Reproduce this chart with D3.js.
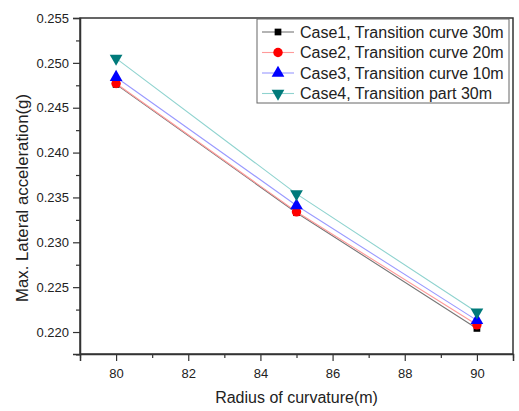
<!DOCTYPE html>
<html>
<head>
<meta charset="utf-8">
<script src="https://cdn.jsdelivr.net/npm/d3@7"></script>
<style>
  body { margin: 0; background: #fff; }
  text { font-family: "Liberation Sans", Arial, sans-serif; fill: #222; }
</style>
</head>
<body>
<div id="chart"></div>
<script>
const radius = [80, 85, 90];
const seriesNames = [
  "Case1, Transition curve 30m",
  "Case2, Transition curve 20m",
  "Case3, Transition curve 10m",
  "Case4, Transition part 30m"
];
const case1 = [0.2476, 0.2333, 0.2204];
const case2 = [0.2477, 0.2334, 0.2208];
const case3 = [0.2484, 0.2341, 0.2213];
const case4 = [0.2505, 0.2354, 0.2222];
const xTicks = [80, 82, 84, 86, 88, 90];
const yTicks = [0.220, 0.225, 0.230, 0.235, 0.240, 0.245, 0.250, 0.255];

const markerColor = ["#000000", "#ff0000", "#0000ff", "#007a7a"];
const lineColor = ["#777777", "#ff9a9a", "#9a9aff", "#8fd3cf"];
const symbols = [d3.symbolSquare, d3.symbolCircle, d3.symbolTriangle, "down"];

const W = 519, H = 411;
const margin = { top: 18, right: 6, bottom: 57, left: 80 };
const width = W - margin.left - margin.right;
const height = H - margin.top - margin.bottom;

const svg = d3.select("#chart").append("svg")
  .attr("width", W).attr("height", H);
const g = svg.append("g")
  .attr("transform", `translate(${margin.left},${margin.top})`);

const x = d3.scaleLinear().domain([79, 91]).range([0, width]);
const y = d3.scaleLinear().domain([0.21755, 0.255]).range([height, 0]);

// frame
g.append("rect").attr("width", width).attr("height", height)
  .attr("fill", "none").attr("stroke", "#333").attr("stroke-width", 1.5);

// minor ticks
g.append("g").attr("transform", `translate(0,${height})`)
  .call(d3.axisBottom(x).tickValues([79, 81, 83, 85, 87, 89, 91]).tickSize(4).tickFormat(""))
  .call(a => a.select(".domain").remove());
g.append("g")
  .call(d3.axisLeft(y).tickValues([0.2175, 0.2225, 0.2275, 0.2325, 0.2375, 0.2425, 0.2475, 0.2525]).tickSize(4).tickFormat(""))
  .call(a => a.select(".domain").remove());

const xAxis = g.append("g").attr("transform", `translate(0,${height})`)
  .call(d3.axisBottom(x).tickValues(xTicks).tickSize(7).tickPadding(8).tickFormat(d3.format("d")));
const yAxis = g.append("g")
  .call(d3.axisLeft(y).tickValues(yTicks).tickSize(7).tickPadding(4).tickFormat(d3.format(".3f")));
[xAxis, yAxis].forEach(a => {
  a.select(".domain").attr("stroke", "#333").attr("stroke-width", 1.5);
  a.selectAll("text").style("font-size", "13px").attr("fill", "#222");
});
g.selectAll(".tick line").attr("stroke", "#333").attr("stroke-width", 1.2);

// axis titles
svg.append("text")
  .attr("x", margin.left + width / 2).attr("y", 403)
  .attr("text-anchor", "middle").style("font-size", "16px")
  .text("Radius of curvature(m)");
svg.append("text")
  .attr("transform", `translate(28,${margin.top + height / 2 + 12}) rotate(-90)`)
  .attr("text-anchor", "middle").style("font-size", "16.8px")
  .text("Max. Lateral acceleration(g)");

const allSeries = [case1, case2, case3, case4];
const line = d3.line().x((d, i) => x(radius[i])).y(d => y(d));

allSeries.forEach((vals, k) => {
  g.append("path").datum(vals)
    .attr("d", line).attr("fill", "none")
    .attr("stroke", lineColor[k]).attr("stroke-width", 1.1);
});

allSeries.forEach((vals, k) => {
  const sym = symbols[k] === "down" ? d3.symbolTriangle : symbols[k];
  const size = k === 0 ? 45 : 70;
  g.selectAll(null).data(vals).enter().append("path")
    .attr("d", d3.symbol().type(sym).size(size))
    .attr("transform", (d, i) => `translate(${x(radius[i])},${y(d)})` + (symbols[k] === "down" ? " rotate(180)" : ""))
    .attr("fill", markerColor[k]);
});

// legend
const lg = svg.append("g").attr("transform", "translate(257,19)");
lg.append("rect").attr("width", 252).attr("height", 84)
  .attr("fill", "#fff").attr("stroke", "#666").attr("stroke-width", 1);
seriesNames.forEach((name, k) => {
  const ry = 13 + k * 20.5;
  lg.append("line").attr("x1", 5).attr("x2", 37).attr("y1", ry).attr("y2", ry)
    .attr("stroke", lineColor[k]).attr("stroke-width", 1.1);
  const sym = symbols[k] === "down" ? d3.symbolTriangle : symbols[k];
  lg.append("path")
    .attr("d", d3.symbol().type(sym).size(k === 0 ? 45 : 70))
    .attr("transform", `translate(21,${ry})` + (symbols[k] === "down" ? " rotate(180)" : ""))
    .attr("fill", markerColor[k]);
  lg.append("text").attr("x", 43).attr("y", ry + 5.5)
    .style("font-size", "16px").text(name);
});
</script>
</body>
</html>
